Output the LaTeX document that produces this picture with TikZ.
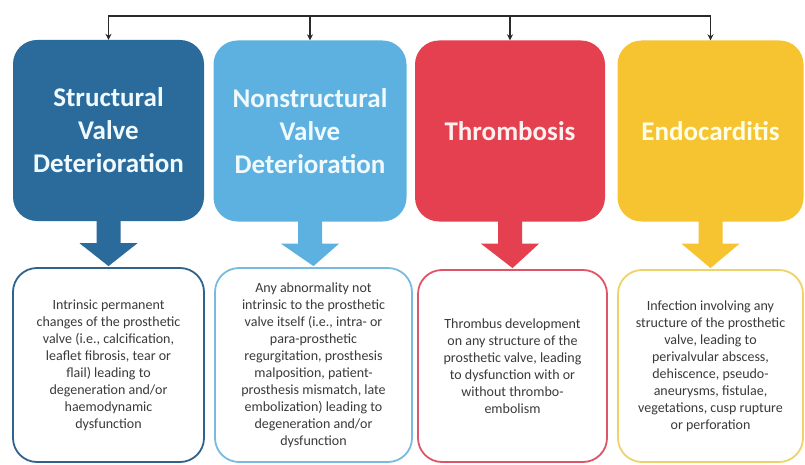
\documentclass[tikz,border=0pt]{standalone}
\usepackage{fontspec}
\setmainfont{Carlito}
\usetikzlibrary{arrows.meta,calc}
\definecolor{cA}{HTML}{2A6B9C}
\definecolor{cB}{HTML}{5DB1E1}
\definecolor{cC}{HTML}{E5404F}
\definecolor{cD}{HTML}{F6C331}
\definecolor{bA}{HTML}{2F638E}
\definecolor{bB}{HTML}{78BBE2}
\definecolor{bC}{HTML}{E05468}
\definecolor{bD}{HTML}{EDD36A}
\definecolor{txt}{HTML}{3A3A3A}
\definecolor{linec}{HTML}{2A2A2A}
\begin{document}
\begin{tikzpicture}[x=1pt,y=-1pt,
  topbox/.style={rounded corners=24pt, minimum height=181pt, inner sep=4pt,
    align=center, text=white!94!cyan, font=\fontsize{27}{33}\selectfont\bfseries},
  botbox/.style={rounded corners=24pt, draw, line width=1.8pt, fill=white,
    inner sep=4pt, align=center, text=txt, font=\fontsize{14}{17}\selectfont},
  bar/.style={draw=linec, line width=1.6pt},
  drop/.style={bar, -{Stealth[length=6pt,width=6pt]}}]
\useasboundingbox (0,0) rectangle (805,465);
\fill[white] (0,0) rectangle (805,465);
% top boxes
\node[topbox, fill=cA, minimum width=191pt] (t1) at (108.5,130.5) {Structural\\Valve\\Deterioration};
\node[topbox, fill=cB, minimum width=193pt] (t2) at (310,131) {Nonstructural\\Valve\\Deterioration};
\node[topbox, fill=cC, minimum width=190pt, text=white!94!red] (t3) at (510,131) {Thrombosis};
\node[topbox, fill=cD, minimum width=186pt, text=white!90!yellow] (t4) at (710.5,131) {Endocarditis};
% bottom boxes
\node[botbox, draw=bA, minimum width=191pt, minimum height=194pt] (b1) at (108.5,365)
  {Intrinsic permanent\\changes of the prosthetic\\valve (i.e., calcification,\\leaflet fibrosis, tear or\\flail) leading to\\degeneration and/or\\haemodynamic\\dysfunction};
\node[botbox, draw=bB, minimum width=197pt, minimum height=194pt] (b2) at (313.5,365)
  {Any abnormality not\\intrinsic to the prosthetic\\valve itself (i.e., intra- or\\para-prosthetic\\regurgitation, prosthesis\\malposition, patient-\\prosthesis mismatch, late\\embolization) leading to\\degeneration and/or\\dysfunction};
\node[botbox, draw=bC, minimum width=189pt, minimum height=192pt] (b3) at (512.5,366)
  {Thrombus development\\on any structure of the\\prosthetic valve, leading\\to dysfunction with or\\without thrombo-\\embolism};
\node[botbox, draw=bD, minimum width=185pt, minimum height=192pt] (b4) at (710.5,366)
  {Infection involving any\\structure of the prosthetic\\valve, leading to\\perivalvular abscess,\\dehiscence, pseudo-\\aneurysms,  fistulae,\\vegetations, cusp rupture\\or perforation};
% block arrows
\foreach \i/\c in {1/cA,2/cB,3/cC,4/cD}{
  \fill[\c] ($(t\i.south)+(-12,-4)$) -- ($(t\i.south)+(-12,22)$) -- ($(t\i.south)+(-29,22)$)
    -- ($(b\i.north)+(0,-1)$) -- ($(t\i.south)+(29,22)$) -- ($(t\i.south)+(12,22)$)
    -- ($(t\i.south)+(12,-4)$) -- cycle;
}
% top connector
\coordinate (h1) at (t1.north |- 0,16);
\coordinate (h2) at (t2.north |- 0,16);
\coordinate (h3) at (t3.north |- 0,16);
\coordinate (h4) at (t4.north |- 0,16);
\draw[bar, line cap=rect] (h1) -- (h4);
\foreach \i in {1,2,3,4}{ \draw[drop] (h\i) -- (t\i.north); }
\end{tikzpicture}
\end{document}
